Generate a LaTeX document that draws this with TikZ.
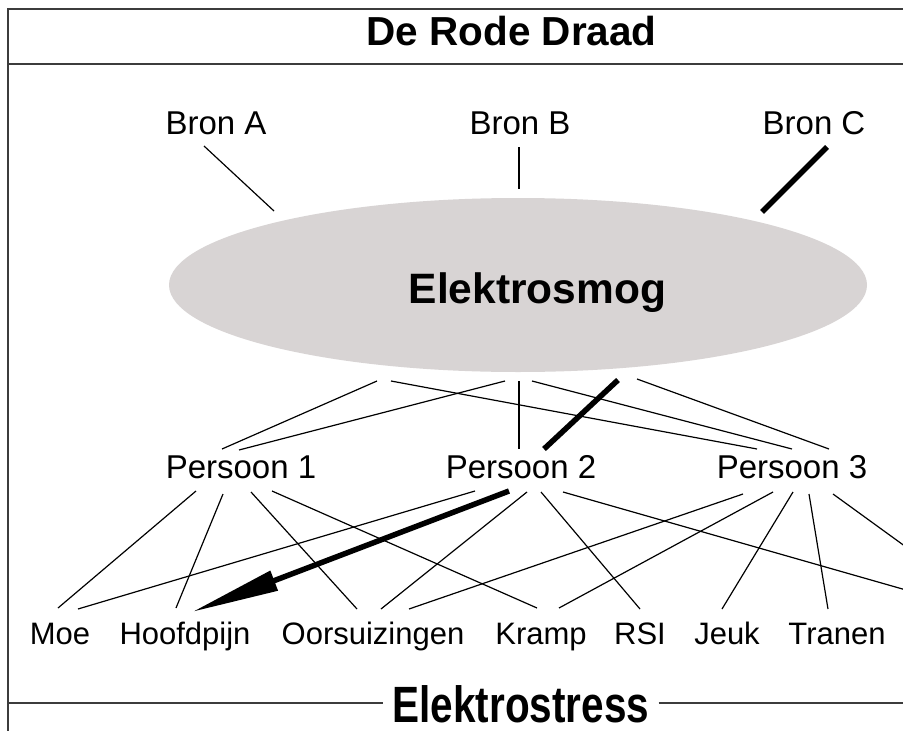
\documentclass[tikz,border=0pt]{standalone}
\usepackage{graphicx}
\usepackage{fontspec}
\setmainfont{Liberation Sans}
\usetikzlibrary{arrows.meta,shapes.geometric}
\definecolor{smoggray}{RGB}{216,212,212}
\definecolor{framegray}{RGB}{60,60,60}

\begin{document}
\begin{tikzpicture}[x=1pt,y=-1pt,
  frame/.style={draw=framegray, line width=1.4pt},
  link/.style={draw=black, line width=1.2pt},
  heavy/.style={draw=black, line width=5.5pt},
  lbl/.style={inner sep=0pt, anchor=base, font=\fontsize{33}{36}\selectfont},
  sym/.style={inner sep=0pt, anchor=base, font=\fontsize{31}{34}\selectfont},
  banner/.style={inner sep=0pt, anchor=base, font=\bfseries\fontsize{40.5}{44}\selectfont},
]
\useasboundingbox (0,0) rectangle (903,731);
\fill[white] (0,0) rectangle (903,731);
\clip (0,0) rectangle (903,731);

% frame and header rule
\coordinate (tl) at (8,9);
\coordinate (tr) at (903,9);
\coordinate (bl) at (8,731);
\coordinate (hl) at (8,64);
\coordinate (hr) at (903,64);
\coordinate (fl) at (8,703);
\coordinate (fr) at (903,703);
\draw[frame] (tr) -- (tl) -- (bl);
\draw[frame] (hl) -- (hr);

% headings
\node[banner] (title) at (511.5,45) {De Rode Draad};
\node[banner, inner xsep=9pt] (stress) at (521,722) {\scalebox{1}[1.26]{Elektrostress}};
\draw[frame] (fl) -- (stress.west |- fl);
\draw[frame] (stress.east |- fr) -- (fr);

% sources
\node[lbl] (bronA) at (216,134) {Bron A};
\node[lbl] (bronB) at (520,134) {Bron B};
\node[lbl] (bronC) at (814,134) {Bron C};

% central cloud
\node[ellipse, fill=smoggray, minimum width=698pt, minimum height=174pt, inner sep=0pt] (smog) at (518,285) {};
\node[inner sep=0pt, anchor=base, font=\bfseries\fontsize{42.5}{46}\selectfont] (smogtext) at (537.5,303) {Elektrosmog};

% persons
\node[lbl] (p1) at (241,478) {Persoon 1};
\node[lbl] (p2) at (521,478) {Persoon 2};
\node[lbl] (p3) at (792,478) {Persoon 3};

% complaints
\node[sym] (moe)    at (60,644)  {Moe};
\node[sym] (hoofd)  at (185,644) {Hoofdpijn};
\node[sym] (oors)   at (373,644) {Oorsuizingen};
\node[sym] (kramp)  at (541,644) {Kramp};
\node[sym] (rsi)    at (640,644) {RSI};
\node[sym] (jeuk)   at (727,644) {Jeuk};
\node[sym] (tranen) at (837,644) {Tranen};
\coordinate (beyond) at (1004,618);

% sources -> cloud
\draw[link]  ([shift={(-12,12)}]bronA.base) -- ([shift={(-244,-74)}]smog.center);
\draw[link]  ([shift={(-1,13)}]bronB.base)  -- ([shift={(1,-96)}]smog.center);
\draw[heavy] ([shift={(13,13)}]bronC.base)  -- ([shift={(244,-73)}]smog.center);

% cloud -> persons
\draw[link]  ([shift={(-141,96)}]smog.center) -- ([shift={(-19,-29)}]p1.base);
\draw[link]  ([shift={(-13,96)}]smog.center)  -- ([shift={(-2,-28)}]p1.base);
\draw[link]  ([shift={(-127,96)}]smog.center) -- ([shift={(-35,-29)}]p3.base);
\draw[link]  ([shift={(1,96)}]smog.center)    -- ([shift={(-2,-29)}]p2.base);
\draw[link]  ([shift={(14,96)}]smog.center)   -- ([shift={(0,-29)}]p3.base);
\draw[link]  ([shift={(119,94)}]smog.center)  -- ([shift={(37,-29)}]p3.base);
\draw[heavy] ([shift={(100,95)}]smog.center)  -- ([shift={(23,-29)}]p2.base);

% person 1 -> complaints
\draw[link] ([shift={(-45,13)}]p1.base) -- ([shift={(-2,-36)}]moe.base);
\draw[link] ([shift={(-18,16)}]p1.base) -- ([shift={(-9,-36)}]hoofd.base);
\draw[link] ([shift={(10,14)}]p1.base)  -- ([shift={(-16,-35)}]oors.base);
\draw[link] ([shift={(31,13)}]p1.base)  -- ([shift={(-4,-36)}]kramp.base);

% person 2 -> complaints
\draw[link] ([shift={(-46,13)}]p2.base) -- ([shift={(18,-35)}]moe.base);
\draw[heavy, -{Triangle[length=88pt,width=20pt]}]
            ([shift={(-12,13)}]p2.base) -- ([shift={(7,-32)}]hoofd.base);
\draw[link] ([shift={(6,14)}]p2.base)   -- ([shift={(8,-35)}]oors.base);
\draw[link] ([shift={(20,14)}]p2.base)  -- ([shift={(0,-35)}]rsi.base);
\draw[link] ([shift={(42,14)}]p2.base)  -- (beyond);

% person 3 -> complaints
\draw[link] ([shift={(-49,16)}]p3.base) -- ([shift={(36,-35)}]oors.base);
\draw[link] ([shift={(-19,14)}]p3.base) -- ([shift={(18,-36)}]kramp.base);
\draw[link] ([shift={(1,14)}]p3.base)   -- ([shift={(-5,-35)}]jeuk.base);
\draw[link] ([shift={(17,16)}]p3.base)  -- ([shift={(-9,-35)}]tranen.base);
\draw[link] ([shift={(41,16)}]p3.base)  -- (beyond);
\end{tikzpicture}
\end{document}
